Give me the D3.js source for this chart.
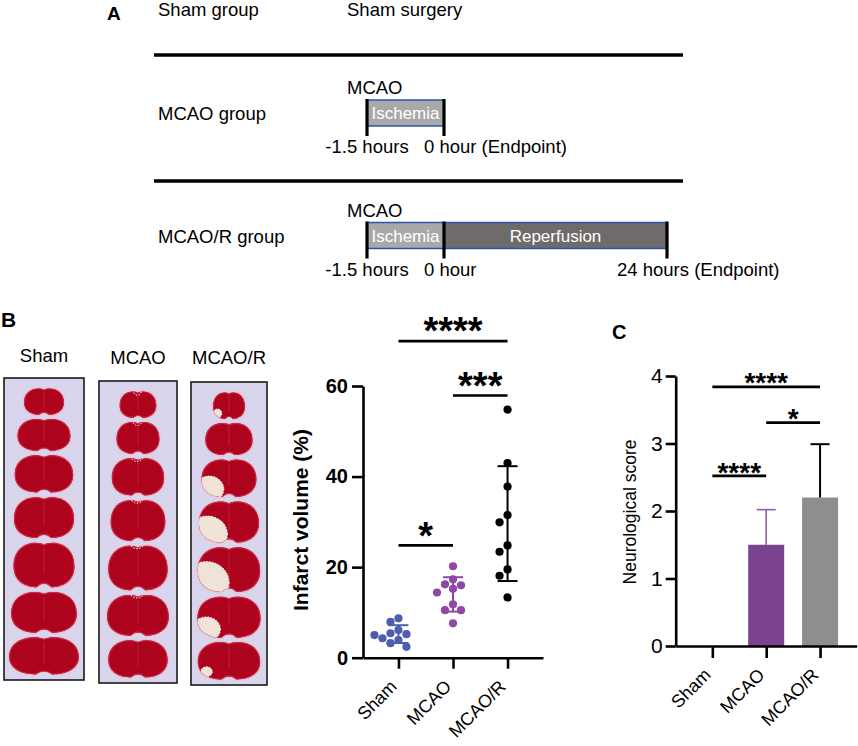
<!DOCTYPE html>
<html>
<head>
<meta charset="utf-8">
<script src="https://cdn.jsdelivr.net/npm/d3@7"></script>
<style>
	body { margin: 0; background: #fff; }
	svg { display: block; font-family: 'Liberation Sans', Arial, Helvetica, sans-serif; }
</style>
</head>
<body>
<svg id="fig" width="858" height="746"></svg>
<script>
// ---- data ----
const groups = ['Sham', 'MCAO', 'MCAO/R'];

// infarct volume (%) per animal
const shamInfarct = [8.7, 7.9, 6.1, 5.4, 5.2, 5.0, 4.3, 3.9, 3.2, 2.4];
const mcaoInfarct = [20.2, 17.3, 16.2, 16.0, 15.2, 14.4, 11.8, 10.5, 10.5, 7.6];
const mcaorInfarct = [54.8, 43.0, 37.8, 31.5, 29.9, 24.8, 23.4, 19.5, 18.1, 13.3];
const infarctTicks = [0, 20, 40, 60];

// neurological score, mean and SD
const neuroMean = [0, 1.5, 2.2];
const neuroSD = [0, 0.52, 0.79];
const neuroTicks = [0, 1, 2, 3, 4];

// significance brackets: from, to, height (in data units), stars
const infarctSig = [
	['Sham', 'MCAO/R', 69.9, '****'],
	['MCAO', 'MCAO/R', 57.9, '***'],
	['Sham', 'MCAO', 24.8, '*']
];
const neuroSig = [
	['Sham', 'MCAO/R', 3.84, '****'],
	['MCAO', 'MCAO/R', 3.31, '*'],
	['Sham', 'MCAO', 2.52, '****']
];

// panel A timeline
const timelineGroups = ['Sham group', 'MCAO group', 'MCAO/R group'];
const phaseNames = ['Ischemia', 'Reperfusion'];
const phaseHours = [[-1.5, 0], [0, 24]];
const mcaoTimes = [-1.5, 0];
const mcaoTimeText = ['-1.5 hours', '0 hour (Endpoint)'];
const mcaorTimes = [-1.5, 0, 24];
const mcaorTimeText = ['-1.5 hours', '0 hour', '24 hours (Endpoint)'];

// TTC slices: relative width and height of the 7 sections in each tray
const sliceWidth = {
	'Sham': [0.50, 0.66, 0.73, 0.75, 0.76, 0.82, 0.87],
	'MCAO': [0.47, 0.55, 0.67, 0.70, 0.76, 0.79, 0.76],
	'MCAO/R': [0.42, 0.62, 0.72, 0.79, 0.82, 0.83, 0.82]
};
const sliceHeight = [0.8, 0.95, 1.1, 1.2, 1.3, 1.2, 1.1];
const mcaorPale = [0.12, 0.0, 0.38, 0.5, 0.55, 0.32, 0.1];

// ---- drawing ----
const svg = d3.select('#fig');
svg.append('rect').attr('width', 858).attr('height', 746).attr('fill', '#fff');

const black = '#000';

// ================= panel A =================
const gA = svg.append('g').attr('class', 'panelA');

gA.append('text').attr('x', 107).attr('y', 20).attr('font-size', 19).attr('font-weight', 'bold').text('A');

const groupBaseline = [16, 120, 242.5];
gA.selectAll('text.grp')
	.data(timelineGroups)
	.join('text')
	.attr('class', 'grp')
	.attr('x', 158)
	.attr('y', (d, i) => groupBaseline[i])
	.attr('font-size', 18.5)
	.text(d => d);

gA.append('text').attr('x', 347).attr('y', 16).attr('font-size', 18.5).text('Sham surgery');

// separator rules
gA.selectAll('line.sep')
	.data([55, 181])
	.join('line')
	.attr('class', 'sep')
	.attr('x1', 154).attr('x2', 683)
	.attr('y1', d => d).attr('y2', d => d)
	.attr('stroke', black).attr('stroke-width', 3.4);

// piecewise time scale (hours -> px)
const tx = d3.scaleLinear().domain([-1.5, 0, 24]).range([367, 444, 667]);
const boxH = 26;
const phaseFill = ['#a9a9a9', '#6f6b6b'];
const labelShift = { '-1.5': 0, '0': -20, '24': -50 };

function drawTimeline(boxTop, nPhases, times, texts) {
	const g = gA.append('g');
	g.append('text').attr('x', 347).attr('y', boxTop - 6).attr('font-size', 18.5).text('MCAO');

	const ph = phaseNames.slice(0, nPhases).map((n, i) => ({ name: n, from: phaseHours[i][0], to: phaseHours[i][1], fill: phaseFill[i] }));

	g.selectAll('rect')
		.data(ph)
		.join('rect')
		.attr('x', d => tx(d.from))
		.attr('width', d => tx(d.to) - tx(d.from))
		.attr('y', boxTop)
		.attr('height', boxH)
		.attr('fill', d => d.fill);

	// blue top/bottom edges
	[boxTop, boxTop + boxH].forEach(y => {
		g.append('line')
			.attr('x1', tx(times[0])).attr('x2', tx(times[times.length - 1]))
			.attr('y1', y).attr('y2', y)
			.attr('stroke', '#2f56a6').attr('stroke-width', 1.6);
	});

	g.selectAll('text.phase')
		.data(ph)
		.join('text')
		.attr('class', 'phase')
		.attr('x', d => (tx(d.from) + tx(d.to)) / 2)
		.attr('y', boxTop + 19)
		.attr('text-anchor', 'middle')
		.attr('font-size', 17)
		.attr('fill', '#fff')
		.text(d => d.name);

	// time markers
	g.selectAll('line.mark')
		.data(times)
		.join('line')
		.attr('class', 'mark')
		.attr('x1', d => tx(d)).attr('x2', d => tx(d))
		.attr('y1', boxTop - 1).attr('y2', boxTop + 36)
		.attr('stroke', black).attr('stroke-width', 3.2);

	g.selectAll('text.time')
		.data(times)
		.join('text')
		.attr('class', 'time')
		.attr('x', (d, i) => i === 0 ? tx(d) : tx(d) + labelShift[String(d)])
		.attr('y', boxTop + 53)
		.attr('text-anchor', (d, i) => i === 0 ? 'middle' : 'start')
		.attr('font-size', 18.5)
		.text((d, i) => texts[i]);
}

drawTimeline(100, 1, mcaoTimes, mcaoTimeText);
drawTimeline(222.5, 2, mcaorTimes, mcaorTimeText);

// ================= panel B: TTC trays =================
const gB = svg.append('g').attr('class', 'panelB');
gB.append('text').attr('x', 1).attr('y', 327).attr('font-size', 21).attr('font-weight', 'bold').text('B');

const trays = [
	{ name: 'Sham', x: 4, y: 378, w: 80, h: 302, ly: 361.5 },
	{ name: 'MCAO', x: 99, y: 381, w: 78, h: 302, ly: 364 },
	{ name: 'MCAO/R', x: 191, y: 382, w: 76, h: 303, ly: 364 }
];

function brainPath(w, h) {
	const l = -w / 2, r = w / 2, t = -h / 2, b = h / 2, n = h * 0.08;
	return `M0,${t + n} C${w * 0.14},${t - 1} ${r},${t + h * 0.04} ${r},${h * 0.05} ` +
		`C${r},${b - h * 0.12} ${w * 0.3},${b} ${w * 0.12},${b} Q0,${b - n * 2} ${-w * 0.12},${b} ` +
		`C${-w * 0.3},${b} ${l},${b - h * 0.12} ${l},${h * 0.05} C${l},${t + h * 0.04} ${-w * 0.14},${t - 1} 0,${t + n}Z`;
}

trays.forEach((tr, ti) => {
	const g = gB.append('g');
	g.append('text')
		.attr('x', tr.x + tr.w / 2).attr('y', tr.ly)
		.attr('text-anchor', 'middle').attr('font-size', 18.5)
		.text(tr.name);
	g.append('rect')
		.attr('x', tr.x).attr('y', tr.y).attr('width', tr.w).attr('height', tr.h)
		.attr('fill', '#d9d5ec').attr('stroke', '#1a1a1a').attr('stroke-width', 1.6);

	// stack the sections top to bottom
	const total = d3.sum(sliceHeight);
	const sy = d3.scaleLinear().domain([0, total]).range([tr.y + 8, tr.y + tr.h - 4]);
	const cum = [0, ...d3.cumsum(sliceHeight)];
	const widths = sliceWidth[tr.name];

	widths.forEach((wf, i) => {
		const w = wf * tr.w;
		const h = (sy(cum[i + 1]) - sy(cum[i])) - 3;
		const cx = tr.x + tr.w / 2;
		const cy = (sy(cum[i]) + sy(cum[i + 1])) / 2;
		const sg = g.append('g').attr('transform', `translate(${cx},${cy})`);
		const clipId = `clip-${ti}-${i}`;
		sg.append('clipPath').attr('id', clipId).append('path').attr('d', brainPath(w, h));
		sg.append('path').attr('d', brainPath(w + 3, h + 3)).attr('fill', '#e2c6d6');
		sg.append('path').attr('d', brainPath(w, h)).attr('fill', '#ad031d');
		// lighter cortical rim
		sg.append('path').attr('d', brainPath(w, h)).attr('fill', 'none')
			.attr('stroke', '#c8284f').attr('stroke-width', 2).attr('clip-path', `url(#${clipId})`);
		// midline
		sg.append('line').attr('x1', 0).attr('x2', 0).attr('y1', -h * 0.35).attr('y2', h * 0.2)
			.attr('stroke', '#c02a4e').attr('stroke-width', 1.2).attr('opacity', 0.7);

		if (tr.name === 'MCAO/R' && mcaorPale[i] > 0) {
			const p = mcaorPale[i];
			const ell = sg.append('g').attr('clip-path', `url(#${clipId})`);
			ell.append('ellipse')
				.attr('cx', -w * 0.36).attr('cy', h * 0.3)
				.attr('rx', w * 0.6 * p + 2).attr('ry', h * 0.75 * p + 2)
				.attr('fill', '#eee3d6');
			ell.append('ellipse')
				.attr('cx', -w * 0.36).attr('cy', h * 0.3)
				.attr('rx', w * 0.6 * p + 2).attr('ry', h * 0.75 * p + 2)
				.attr('fill', 'none').attr('stroke', '#fff').attr('stroke-width', 1)
				.attr('stroke-dasharray', '1.5,1.5');
		}
		if (tr.name === 'MCAO' && i < 6) {
			sg.append('path')
				.attr('d', `M${-w * 0.12},${-h / 2 + 2} Q0,${-h / 2 + 8} ${w * 0.1},${-h / 2 + 1}`)
				.attr('fill', 'none').attr('stroke', '#fff').attr('stroke-width', 1)
				.attr('stroke-dasharray', '1.5,1.5');
		}
	});
});

// ================= panel B: infarct volume scatter =================
const gS = svg.append('g').attr('class', 'scatter');
const xB = d3.scalePoint().domain(groups).range([363, 543]).padding(0.65);
const yB = d3.scaleLinear().domain([0, 60]).range([657.7, 386]);
const scatterColour = ['#4c5ead', '#8e49a6', '#000'];
const infarctData = [shamInfarct, mcaoInfarct, mcaorInfarct];

// column-style scatter: dots that would overlap are pushed sideways in fixed steps
function swarm(values, cx, step, minDist) {
	const placed = [];
	return values.map(v => {
		const py = yB(v);
		let dx = 0;
		for (let k = 0; k < 20; k++) {
			const off = (k % 2 ? -1 : 1) * Math.ceil(k / 2) * step;
			const ok = placed.every(p => (p.x - (cx + off)) ** 2 + (p.y - py) ** 2 >= minDist * minDist);
			if (ok) { dx = off; break; }
		}
		const pt = { x: cx + dx, y: py, v: v };
		placed.push(pt);
		return pt;
	});
}

infarctData.forEach((vals, gi) => {
	const cx = xB(groups[gi]);
	const col = scatterColour[gi];
	const m = d3.mean(vals), sd = d3.deviation(vals);
	const pts = swarm(vals, cx, 8, 8.5);

	gS.append('g')
		.selectAll('circle')
		.data(pts)
		.join('circle')
		.attr('cx', d => d.x).attr('cy', d => d.y).attr('r', 4.1)
		.attr('fill', col);

	const eb = gS.append('g').attr('stroke', col).attr('stroke-width', 2);
	eb.append('line').attr('x1', cx).attr('x2', cx).attr('y1', yB(m + sd)).attr('y2', yB(m - sd));
	[m + sd, m - sd].forEach(v => {
		eb.append('line').attr('x1', cx - 10).attr('x2', cx + 10).attr('y1', yB(v)).attr('y2', yB(v));
	});
});

const axB = gS.append('g')
	.attr('transform', 'translate(363,0)')
	.call(d3.axisLeft(yB).tickValues(infarctTicks).tickSize(11).tickSizeOuter(0).tickPadding(4));
axB.selectAll('path, line').attr('stroke', black).attr('stroke-width', 2.6);
axB.selectAll('text').attr('font-size', 20).attr('font-weight', 'bold').attr('fill', black)
	.attr('font-family', 'Liberation Sans, Arial, sans-serif');

const axBx = gS.append('g')
	.attr('transform', 'translate(0,657.7)')
	.call(d3.axisBottom(xB).tickSize(11).tickSizeOuter(0));
axBx.selectAll('path, line').attr('stroke', black).attr('stroke-width', 2.6);
axBx.selectAll('text')
	.attr('x', 0).attr('y', 0).attr('dy', 0)
	.attr('transform', 'translate(-1,30) rotate(-45)')
	.attr('text-anchor', 'end')
	.attr('font-size', 18).attr('fill', black)
	.attr('font-family', 'Liberation Sans, Arial, sans-serif');

gS.append('text')
	.attr('transform', 'translate(308,520) rotate(-90)')
	.attr('text-anchor', 'middle')
	.attr('font-size', 21).attr('font-weight', 'bold')
	.text('Infarct volume (%)');

function drawSig(g, sig, x, y, starGap, fs) {
	const s = g.append('g').selectAll('g').data(sig).join('g');
	s.append('line')
		.attr('x1', d => x(d[0])).attr('x2', d => x(d[1]))
		.attr('y1', d => y(d[2])).attr('y2', d => y(d[2]))
		.attr('stroke', black).attr('stroke-width', 2.7);
	s.append('text')
		.attr('x', d => (x(d[0]) + x(d[1])) / 2)
		.attr('y', d => y(d[2]) - starGap + 0.56 * fs)
		.attr('text-anchor', 'middle')
		.attr('font-size', fs).attr('font-weight', 'bold')
		.text(d => d[3]);
}
drawSig(gS, infarctSig, xB, yB, 18, 38);

// ================= panel C: neurological score =================
const gC = svg.append('g').attr('class', 'panelC');
gC.append('text').attr('x', 612).attr('y', 338.5).attr('font-size', 20).attr('font-weight', 'bold').text('C');

const xC = d3.scalePoint().domain(groups).range([675.7, 856.7]).padding(0.68);
const yC = d3.scaleLinear().domain([0, 4]).range([646, 376]);
const barColour = ['#7b4290', '#7b4290', '#8e8e8e'];
const errColour = ['#000', '#8f5fa8', '#000'];
const barW = 36;

const neuroData = groups.map((g, i) => ({ group: g, mean: neuroMean[i], sd: neuroSD[i], i: i }));

gC.append('g')
	.selectAll('rect')
	.data(neuroData.filter(d => d.mean > 0))
	.join('rect')
	.attr('x', d => xC(d.group) - barW / 2)
	.attr('width', barW)
	.attr('y', d => yC(d.mean))
	.attr('height', d => yC(0) - yC(d.mean))
	.attr('fill', d => barColour[d.i]);

const err = gC.append('g').selectAll('g').data(neuroData.filter(d => d.sd > 0)).join('g')
	.attr('stroke', d => errColour[d.i])
	.attr('stroke-width', d => d.i === 1 ? 1.6 : 2);
err.append('line')
	.attr('x1', d => xC(d.group)).attr('x2', d => xC(d.group))
	.attr('y1', d => yC(d.mean)).attr('y2', d => yC(d.mean + d.sd));
err.append('line')
	.attr('x1', d => xC(d.group) - 9.5).attr('x2', d => xC(d.group) + 9.5)
	.attr('y1', d => yC(d.mean + d.sd)).attr('y2', d => yC(d.mean + d.sd));

const axC = gC.append('g')
	.attr('transform', 'translate(675.7,0)')
	.call(d3.axisLeft(yC).tickValues(neuroTicks).tickFormat(d3.format('d')).tickSize(10).tickSizeOuter(0).tickPadding(3));
axC.selectAll('path, line').attr('stroke', black).attr('stroke-width', 2.6);
axC.selectAll('text').attr('font-size', 21).attr('fill', black)
	.attr('font-family', 'Liberation Sans, Arial, sans-serif');

const axCx = gC.append('g')
	.attr('transform', 'translate(0,646)')
	.call(d3.axisBottom(xC).tickSize(12).tickSizeOuter(0));
axCx.selectAll('path, line').attr('stroke', black).attr('stroke-width', 2.6);
axCx.selectAll('text')
	.attr('x', 0).attr('y', 0).attr('dy', 0)
	.attr('transform', 'translate(-1,30) rotate(-45)')
	.attr('text-anchor', 'end')
	.attr('font-size', 18).attr('fill', black)
	.attr('font-family', 'Liberation Sans, Arial, sans-serif');

gC.append('text')
	.attr('transform', 'translate(636,512) rotate(-90)')
	.attr('text-anchor', 'middle')
	.attr('font-size', 17.5)
	.text('Neurological score');

drawSig(gC, neuroSig, xC, yC, 10, 28);
</script>
</body>
</html>
